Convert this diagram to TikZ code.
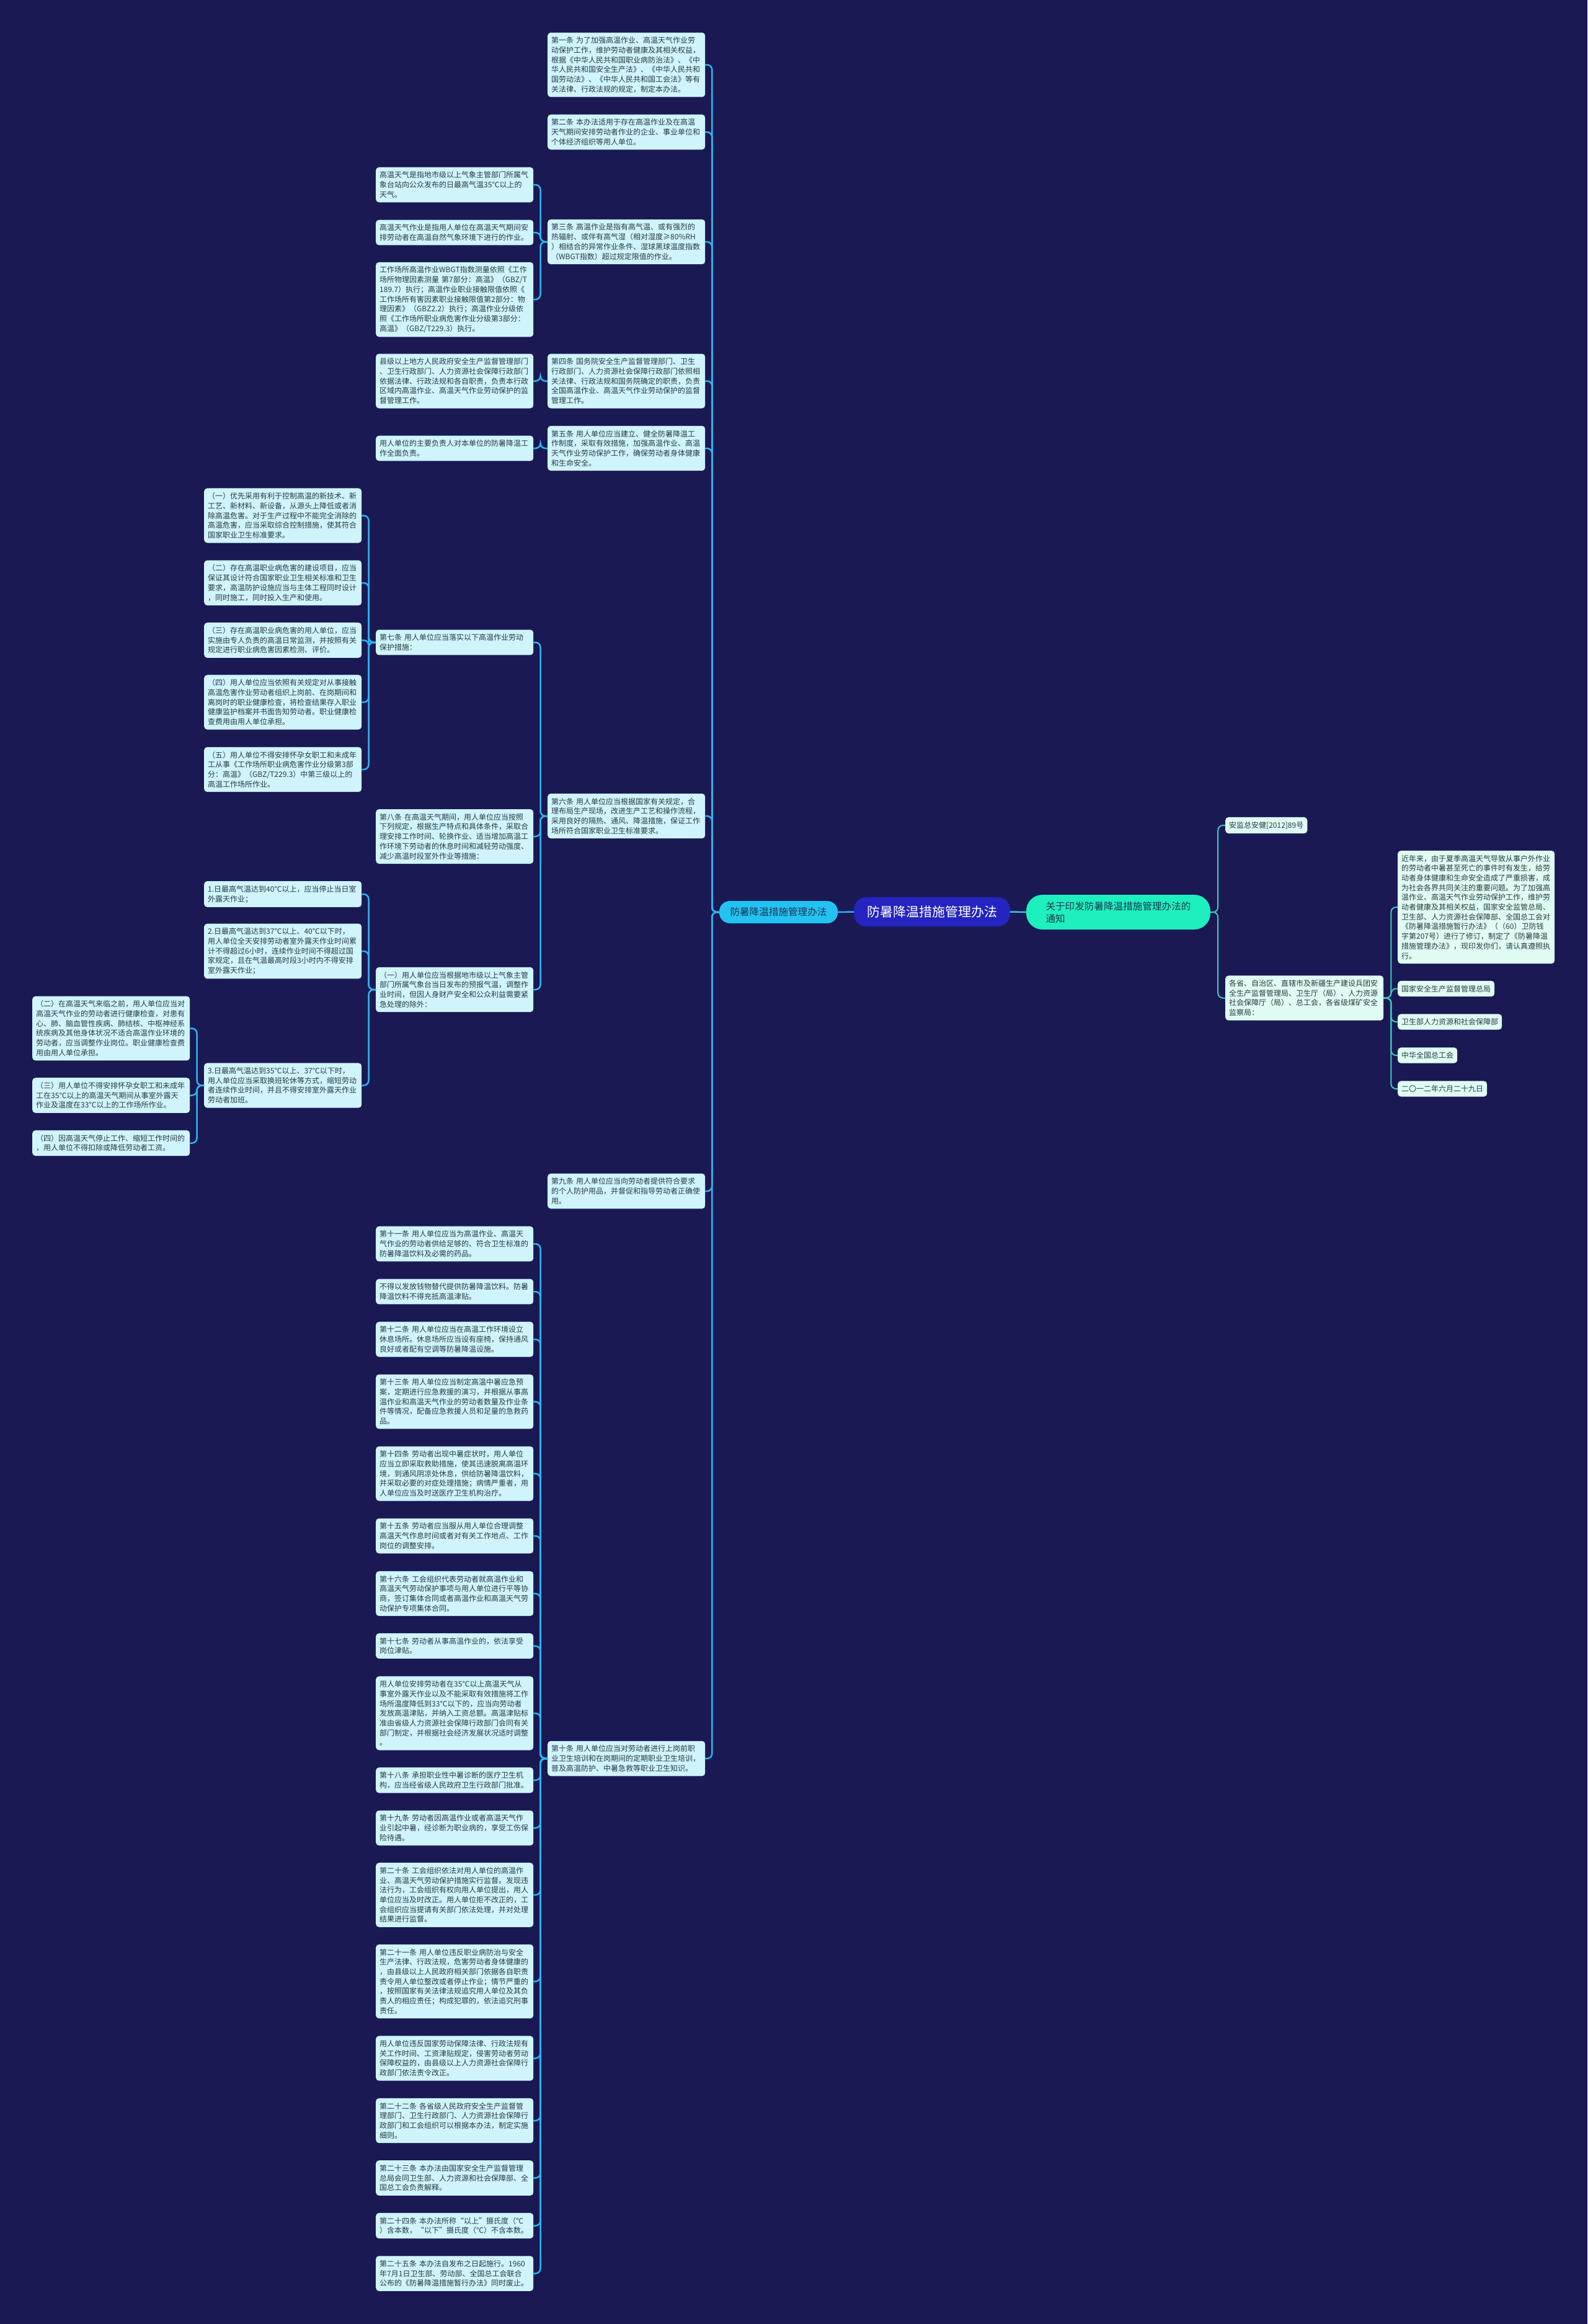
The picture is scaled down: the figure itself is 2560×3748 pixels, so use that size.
\documentclass[tikz,border=0pt]{standalone}
\usepackage{fontspec}
\newfontfamily\cjk{Noto Sans CJK SC}
\definecolor{bg}{HTML}{1A1954}
\definecolor{leafL}{HTML}{CFF4FC}
\definecolor{leafR}{HTML}{DEFCF3}
\definecolor{txt}{HTML}{2B3A42}
\definecolor{lineL}{HTML}{2BB5EE}
\definecolor{lineR}{HTML}{3CCBC2}
\definecolor{lineM}{HTML}{3FC0DA}
\definecolor{rootc}{HTML}{2424C0}
\definecolor{lbr}{HTML}{22C3F3}
\definecolor{rbr}{HTML}{1DF0BE}
\definecolor{brtxt}{HTML}{1E3550}
\newcommand\lc[2]{\draw[lline] (#1.west) -- ++(-11.5,0) |- (#2.east);}
\newcommand\rc[2]{\draw[rline] (#1.east) -- ++(12,0) |- (#2.west);}
\begin{document}
\begin{tikzpicture}[x=1pt,y=-1pt,
  leaf/.style={fill=leafL, rounded corners=5pt, text=txt, font=\cjk\fontsize{12}{15.7}\selectfont, align=left, text width=242pt, inner xsep=6pt, inner ysep=7pt, anchor=west},
  rleaf/.style={leaf, fill=leafR},
  rsmall/.style={fill=leafR, rounded corners=5pt, text=txt, font=\cjk\fontsize{12}{15.7}\selectfont, align=left, inner xsep=6pt, inner ysep=7pt, anchor=west},
  lline/.style={draw=lineL, line width=2.5pt, rounded corners=8pt},
  rline/.style={draw=lineR, line width=2pt, rounded corners=8pt}]
\useasboundingbox (0,0) rectangle (2560,3748);
\fill[bg] (0,0) rectangle (2560,3748);

% center
\node[fill=rootc, text=white, rounded corners=20pt, minimum width=252pt, minimum height=47pt, inner sep=0pt, font=\cjk\fontsize{21}{24}\selectfont] (root) at (1503,1470.5) {防暑降温措施管理办法};
\node[fill=lbr, text=brtxt, rounded corners=17pt, minimum width=191pt, minimum height=36pt, inner sep=0pt, font=\cjk\fontsize{15.6}{19}\selectfont] (lb) at (1255.5,1471) {防暑降温措施管理办法};
\node[fill=rbr, text=brtxt, rounded corners=26pt, minimum width=297pt, minimum height=56pt, inner sep=0pt, align=left, font=\cjk\fontsize{15.6}{20}\selectfont] (rb) at (1803.5,1471) {关于印发防暑降温措施管理办法的\\通知};

% column A
\node[leaf] (a1) at (883,104.5) {第一条 为了加强高温作业、高温天气作业劳\\动保护工作，维护劳动者健康及其相关权益，\\根据《中华人民共和国职业病防治法》、《中\\华人民共和国安全生产法》、《中华人民共和\\国劳动法》、《中华人民共和国工会法》等有\\关法律、行政法规的规定，制定本办法。};
\node[leaf] (a2) at (883,213) {第二条 本办法适用于存在高温作业及在高温\\天气期间安排劳动者作业的企业、事业单位和\\个体经济组织等用人单位。};
\node[leaf] (a3) at (883,390) {第三条 高温作业是指有高气温、或有强烈的\\热辐射、或伴有高气湿（相对湿度≥80\%RH\\）相结合的异常作业条件、湿球黑球温度指数\\（WBGT指数）超过规定限值的作业。};
\node[leaf] (a4) at (883,614.5) {第四条 国务院安全生产监督管理部门、卫生\\行政部门、人力资源社会保障行政部门依照相\\关法律、行政法规和国务院确定的职责，负责\\全国高温作业、高温天气作业劳动保护的监督\\管理工作。};
\node[leaf] (a5) at (883,723) {第五条 用人单位应当建立、健全防暑降温工\\作制度，采取有效措施，加强高温作业、高温\\天气作业劳动保护工作，确保劳动者身体健康\\和生命安全。};
\node[leaf] (a6) at (883,1316) {第六条 用人单位应当根据国家有关规定，合\\理布局生产现场，改进生产工艺和操作流程，\\采用良好的隔热、通风、降温措施，保证工作\\场所符合国家职业卫生标准要求。};
\node[leaf] (a9) at (883,1921) {第九条 用人单位应当向劳动者提供符合要求\\的个人防护用品，并督促和指导劳动者正确使\\用。};
\node[leaf] (a10) at (883,2836) {第十条 用人单位应当对劳动者进行上岗前职\\业卫生培训和在岗期间的定期职业卫生培训，\\普及高温防护、中暑急救等职业卫生知识。};

% column B
\node[leaf] (b31) at (606,298) {高温天气是指地市级以上气象主管部门所属气\\象台站向公众发布的日最高气温35℃以上的\\天气。};
\node[leaf] (b32) at (606,375) {高温天气作业是指用人单位在高温天气期间安\\排劳动者在高温自然气象环境下进行的作业。};
\node[leaf] (b33) at (606,483) {工作场所高温作业WBGT指数测量依照《工作\\场所物理因素测量 第7部分：高温》（GBZ/T\\189.7）执行；高温作业职业接触限值依照《\\工作场所有害因素职业接触限值第2部分：物\\理因素》（GBZ2.2）执行；高温作业分级依\\照《工作场所职业病危害作业分级第3部分：\\高温》（GBZ/T229.3）执行。};
\node[leaf] (b41) at (606,614.5) {县级以上地方人民政府安全生产监督管理部门\\、卫生行政部门、人力资源社会保障行政部门\\依据法律、行政法规和各自职责，负责本行政\\区域内高温作业、高温天气作业劳动保护的监\\督管理工作。};
\node[leaf] (b51) at (606,723) {用人单位的主要负责人对本单位的防暑降温工\\作全面负责。};
\node[leaf] (b7) at (606,1036) {第七条 用人单位应当落实以下高温作业劳动\\保护措施：};
\node[leaf] (b8) at (606,1349) {第八条 在高温天气期间，用人单位应当按照\\下列规定，根据生产特点和具体条件，采取合\\理安排工作时间、轮换作业、适当增加高温工\\作环境下劳动者的休息时间和减轻劳动强度、\\减少高温时段室外作业等措施：};
\node[leaf] (b81) at (606,1596) {（一）用人单位应当根据地市级以上气象主管\\部门所属气象台当日发布的预报气温，调整作\\业时间，但因人身财产安全和公众利益需要紧\\急处理的除外：};
\node[leaf] (b11) at (606,2006) {第十一条 用人单位应当为高温作业、高温天\\气作业的劳动者供给足够的、符合卫生标准的\\防暑降温饮料及必需的药品。};
\node[leaf] (b11b) at (606,2083) {不得以发放钱物替代提供防暑降温饮料。防暑\\降温饮料不得充抵高温津贴。};
\node[leaf] (b12) at (606,2160) {第十二条 用人单位应当在高温工作环境设立\\休息场所。休息场所应当设有座椅，保持通风\\良好或者配有空调等防暑降温设施。};
\node[leaf] (b13) at (606,2260.5) {第十三条 用人单位应当制定高温中暑应急预\\案，定期进行应急救援的演习，并根据从事高\\温作业和高温天气作业的劳动者数量及作业条\\件等情况，配备应急救援人员和足量的急救药\\品。};
\node[leaf] (b14) at (606,2376.5) {第十四条 劳动者出现中暑症状时，用人单位\\应当立即采取救助措施，使其迅速脱离高温环\\境，到通风阴凉处休息，供给防暑降温饮料，\\并采取必要的对症处理措施；病情严重者，用\\人单位应当及时送医疗卫生机构治疗。};
\node[leaf] (b15) at (606,2477) {第十五条 劳动者应当服从用人单位合理调整\\高温天气作息时间或者对有关工作地点、工作\\岗位的调整安排。};
\node[leaf] (b16) at (606,2570) {第十六条 工会组织代表劳动者就高温作业和\\高温天气劳动保护事项与用人单位进行平等协\\商，签订集体合同或者高温作业和高温天气劳\\动保护专项集体合同。};
\node[leaf] (b17) at (606,2654.5) {第十七条 劳动者从事高温作业的，依法享受\\岗位津贴。};
\node[leaf] (b17b) at (606,2763) {用人单位安排劳动者在35℃以上高温天气从\\事室外露天作业以及不能采取有效措施将工作\\场所温度降低到33℃以下的，应当向劳动者\\发放高温津贴，并纳入工资总额。高温津贴标\\准由省级人力资源社会保障行政部门会同有关\\部门制定，并根据社会经济发展状况适时调整\\。};
\node[leaf] (b18) at (606,2871) {第十八条 承担职业性中暑诊断的医疗卫生机\\构，应当经省级人民政府卫生行政部门批准。};
\node[leaf] (b19) at (606,2948) {第十九条 劳动者因高温作业或者高温天气作\\业引起中暑，经诊断为职业病的，享受工伤保\\险待遇。};
\node[leaf] (b20) at (606,3056) {第二十条 工会组织依法对用人单位的高温作\\业、高温天气劳动保护措施实行监督。发现违\\法行为，工会组织有权向用人单位提出，用人\\单位应当及时改正。用人单位拒不改正的，工\\会组织应当提请有关部门依法处理，并对处理\\结果进行监督。};
\node[leaf] (b21) at (606,3195.5) {第二十一条 用人单位违反职业病防治与安全\\生产法律、行政法规，危害劳动者身体健康的\\，由县级以上人民政府相关部门依据各自职责\\责令用人单位整改或者停止作业；情节严重的\\，按照国家有关法律法规追究用人单位及其负\\责人的相应责任；构成犯罪的，依法追究刑事\\责任。};
\node[leaf] (b21b) at (606,3319.5) {用人单位违反国家劳动保障法律、行政法规有\\关工作时间、工资津贴规定，侵害劳动者劳动\\保障权益的，由县级以上人力资源社会保障行\\政部门依法责令改正。};
\node[leaf] (b22) at (606,3420) {第二十二条 各省级人民政府安全生产监督管\\理部门、卫生行政部门、人力资源社会保障行\\政部门和工会组织可以根据本办法，制定实施\\细则。};
\node[leaf] (b23) at (606,3512.5) {第二十三条 本办法由国家安全生产监督管理\\总局会同卫生部、人力资源和社会保障部、全\\国总工会负责解释。};
\node[leaf] (b24) at (606,3589.5) {第二十四条 本办法所称“以上”摄氏度（℃\\）含本数，“以下”摄氏度（℃）不含本数。};
\node[leaf] (b25) at (606,3666.5) {第二十五条 本办法自发布之日起施行。1960\\年7月1日卫生部、劳动部、全国总工会联合\\公布的《防暑降温措施暂行办法》同时废止。};

% column C
\node[leaf] (c71) at (329,831.5) {（一）优先采用有利于控制高温的新技术、新\\工艺、新材料、新设备，从源头上降低或者消\\除高温危害。对于生产过程中不能完全消除的\\高温危害，应当采取综合控制措施，使其符合\\国家职业卫生标准要求。};
\node[leaf] (c72) at (329,940) {（二）存在高温职业病危害的建设项目，应当\\保证其设计符合国家职业卫生相关标准和卫生\\要求，高温防护设施应当与主体工程同时设计\\，同时施工，同时投入生产和使用。};
\node[leaf] (c73) at (329,1032.5) {（三）存在高温职业病危害的用人单位，应当\\实施由专人负责的高温日常监测，并按照有关\\规定进行职业病危害因素检测、评价。};
\node[leaf] (c74) at (329,1132.5) {（四）用人单位应当依照有关规定对从事接触\\高温危害作业劳动者组织上岗前、在岗期间和\\离岗时的职业健康检查，将检查结果存入职业\\健康监护档案并书面告知劳动者。职业健康检\\查费用由用人单位承担。};
\node[leaf] (c75) at (329,1241) {（五）用人单位不得安排怀孕女职工和未成年\\工从事《工作场所职业病危害作业分级第3部\\分：高温》（GBZ/T229.3）中第三级以上的\\高温工作场所作业。};
\node[leaf] (c1) at (329,1442) {1.日最高气温达到40℃以上，应当停止当日室\\外露天作业；};
\node[leaf] (c2) at (329,1534) {2.日最高气温达到37℃以上、40℃以下时，\\用人单位全天安排劳动者室外露天作业时间累\\计不得超过6小时，连续作业时间不得超过国\\家规定，且在气温最高时段3小时内不得安排\\室外露天作业；};
\node[leaf] (c3) at (329,1750.5) {3.日最高气温达到35℃以上、37℃以下时，\\用人单位应当采取换班轮休等方式，缩短劳动\\者连续作业时间，并且不得安排室外露天作业\\劳动者加班。};

% column D
\node[leaf] (d2) at (52,1658.5) {（二）在高温天气来临之前，用人单位应当对\\高温天气作业的劳动者进行健康检查，对患有\\心、肺、脑血管性疾病、肺结核、中枢神经系\\统疾病及其他身体状况不适合高温作业环境的\\劳动者，应当调整作业岗位。职业健康检查费\\用由用人单位承担。};
\node[leaf] (d3) at (52,1766.5) {（三）用人单位不得安排怀孕女职工和未成年\\工在35℃以上的高温天气期间从事室外露天\\作业及温度在33℃以上的工作场所作业。};
\node[leaf] (d4) at (52,1843.5) {（四）因高温天气停止工作、缩短工作时间的\\，用人单位不得扣除或降低劳动者工资。};

% right side
\node[rsmall] (r1) at (1976,1331) {安监总安健[2012]89号};
\node[rleaf, text width=243pt] (r2) at (1976,1609.5) {各省、自治区、直辖市及新疆生产建设兵团安\\全生产监督管理局、卫生厅（局）、人力资源\\社会保障厅（局）、总工会，各省级煤矿安全\\监察局：};
\node[rleaf, text width=241pt] (s1) at (2254,1463) {近年来，由于夏季高温天气导致从事户外作业\\的劳动者中暑甚至死亡的事件时有发生，给劳\\动者身体健康和生命安全造成了严重损害，成\\为社会各界共同关注的重要问题。为了加强高\\温作业、高温天气作业劳动保护工作，维护劳\\动者健康及其相关权益，国家安全监管总局、\\卫生部、人力资源社会保障部、全国总工会对\\《防暑降温措施暂行办法》（（60）卫防钱\\字第207号）进行了修订，制定了《防暑降温\\措施管理办法》，现印发你们，请认真遵照执\\行。};
\node[rsmall] (s2) at (2254,1594.5) {国家安全生产监督管理总局};
\node[rsmall] (s3) at (2254,1648) {卫生部人力资源和社会保障部};
\node[rsmall] (s4) at (2254,1702) {中华全国总工会};
\node[rsmall] (s5) at (2254,1756) {二〇一二年六月二十九日};

% connectors
\draw[lline] (root.west) -- (lb.east);
\draw[draw=lineM, line width=2.5pt] (root.east) -- (rb.west);
\foreach \c in {a1,a2,a3,a4,a5,a6,a9,a10} {\lc{lb}{\c}}
\foreach \c in {b31,b32,b33} {\lc{a3}{\c}}
\lc{a4}{b41}
\lc{a5}{b51}
\foreach \c in {b7,b8,b81} {\lc{a6}{\c}}
\foreach \c in {c71,c72,c73,c74,c75} {\lc{b7}{\c}}
\foreach \c in {c1,c2,c3} {\lc{b81}{\c}}
\foreach \c in {d2,d3,d4} {\lc{c3}{\c}}
\foreach \c in {b11,b11b,b12,b13,b14,b15,b16,b17,b17b,b18,b19,b20,b21,b21b,b22,b23,b24,b25} {\lc{a10}{\c}}
\rc{rb}{r1}
\rc{rb}{r2}
\foreach \c in {s1,s2,s3,s4,s5} {\rc{r2}{\c}}
\end{tikzpicture}
\end{document}
